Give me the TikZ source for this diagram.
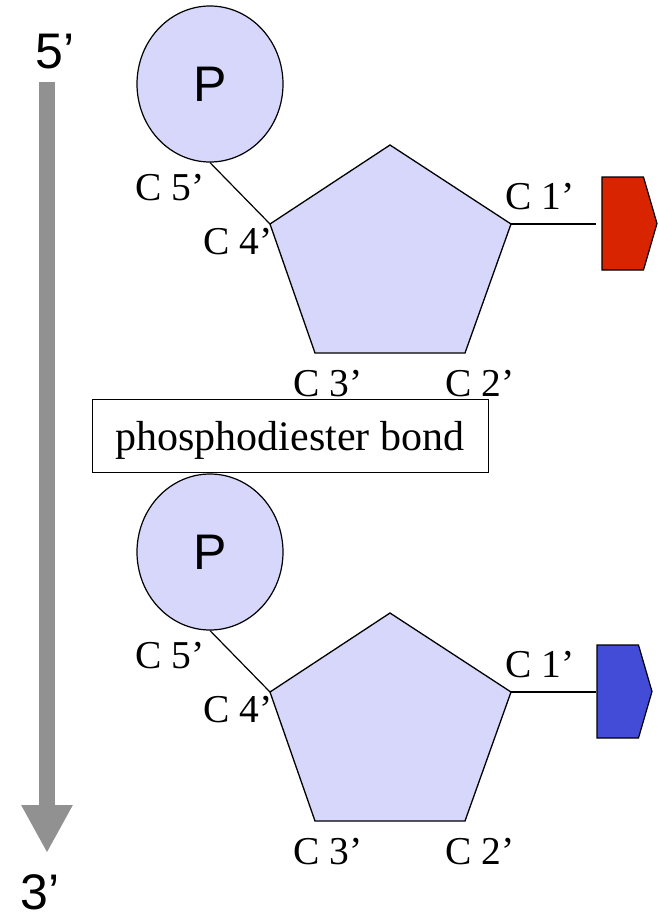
\documentclass[tikz,border=0pt]{standalone}
\usepackage{fontspec}
\setmainfont{Liberation Serif}
\newfontfamily\fuentesans{Liberation Sans}
\usepackage{tikz}
\usetikzlibrary{arrows.meta, shapes.geometric, positioning}
\definecolor{lila}{RGB}{214,215,250}
\definecolor{rojo}{RGB}{217,36,0}
\definecolor{azul}{RGB}{66,76,214}
\definecolor{gris}{RGB}{145,145,145}
\tikzset{
  etiqueta/.style={font=\fontsize{39.5}{40}\selectfont, inner sep=0pt, anchor=base west},
  fosfato/.style={ellipse, draw, line width=1.2pt, fill=lila, minimum width=146pt,
    minimum height=156pt, inner sep=0pt, font=\fuentesans\fontsize{50}{50}\selectfont},
  azucar/.style={draw, line width=1.3pt, fill=lila},
  enlace/.style={line width=1.2pt},
  extremo/.style={font=\fuentesans\fontsize{50}{50}\selectfont, inner sep=0pt, anchor=base west},
}
\newcommand{\nucleotido}[4]{%
  \begin{scope}[shift={(0,#2)}]
  \node[etiqueta] (#1c5) at (135,200) {C 5’};
  \node[etiqueta] (#1c4) at (203,254) {C 4’};
  \node[etiqueta] (#1c3) at (293,396) {C 3’};
  \node[etiqueta] (#1c2) at (445,396) {C 2’};
  \node[etiqueta] (#1c1) at (505,209) {C 1’};
  \coordinate (#1v0) at (390,145);
  \coordinate (#1v1) at (511,224);
  \coordinate (#1v2) at (465,353);
  \coordinate (#1v3) at (315,353);
  \coordinate (#1v4) at (270,224);
  \draw[azucar] (#1v0) -- (#1v1) -- (#1v2) -- (#1v3) -- (#1v4) -- cycle;
  \node[fosfato] (#1p) at (210,84) {P};
  \draw[enlace] (#1p.south) -- (#1v4);
  \coordinate (#1b) at (596,224);
  \draw[enlace] (#1v1) -- (#1b);
  \draw[line width=1.2pt, fill=#3] (#4,177) -- (#4+41.5,177) -- (#4+55,223.5)
    -- (#4+41.5,270) -- (#4,270) -- cycle;
  \end{scope}%
}

\begin{document}
\begin{tikzpicture}[x=1pt, y=-1pt]
        \useasboundingbox (0,0) rectangle (657,916);
        \node[extremo] (cinco) at (35,68) {5’};
        \node[extremo] (tres) at (20,909) {3’};
        \coordinate (ini) at (47,82);
        \coordinate (fin) at (47,853);
        \draw[gris, line width=16pt, -{Triangle[length=48pt, width=48pt]}] (ini) -- (fin);
        \nucleotido{a}{0}{rojo}{602}
        \nucleotido{b}{468}{azul}{597}
        \node[draw, line width=1pt, minimum width=396pt, minimum height=73pt, inner sep=0pt,
          text height=30pt, text depth=1pt, font=\fontsize{42}{42}\selectfont]
          (fosfodiester) at (290,435.5) {phosphodiester bond};
      \end{tikzpicture}
\end{document}
